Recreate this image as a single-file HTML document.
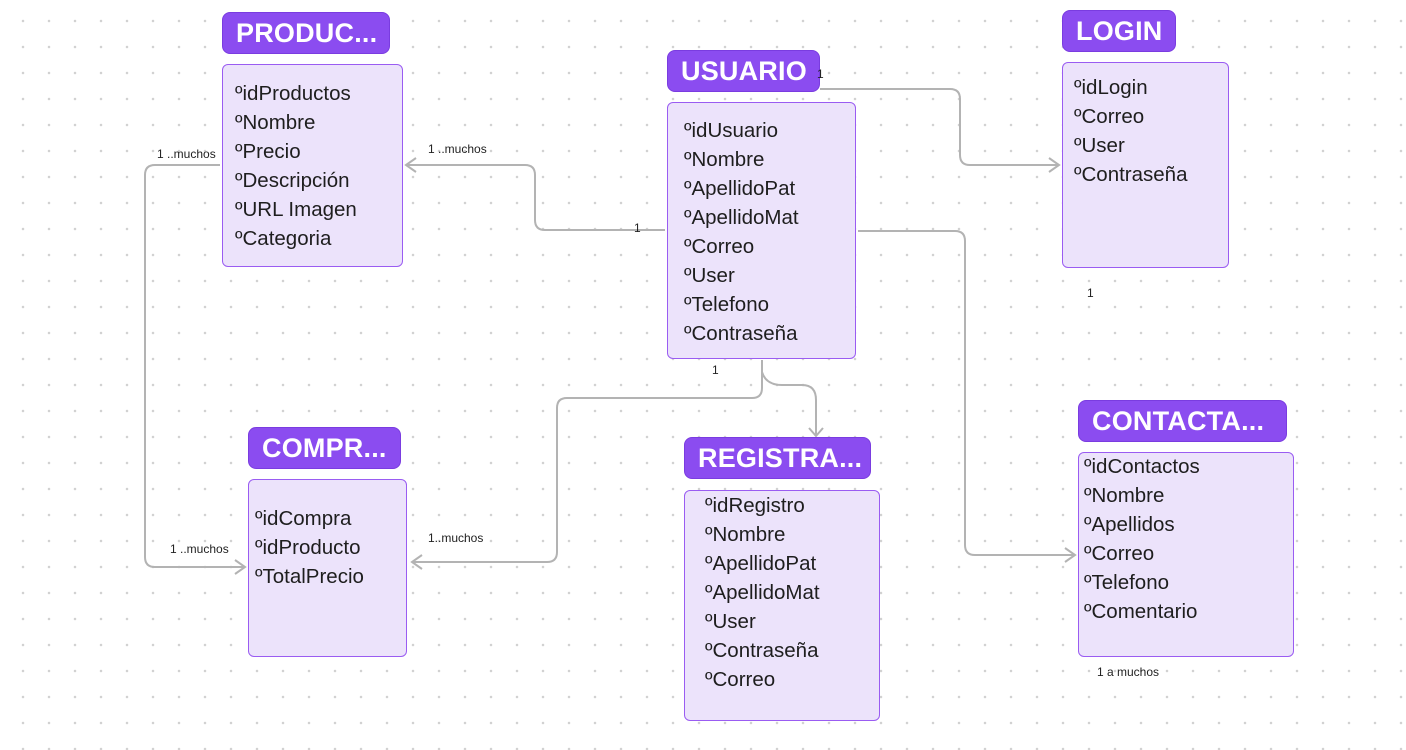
<!DOCTYPE html>
<html><head><meta charset="utf-8"><style>
html,body{margin:0;padding:0}
body{width:1406px;height:750px;position:relative;overflow:hidden;background:#fff;
background-image:radial-gradient(circle at 13px 13px,#d0d0d0 1px,transparent 1.5px);
background-size:26px 26px;background-position:10px 8px;font-family:"Liberation Sans",sans-serif}
.h{position:absolute;background:#8b4cf0;border:1.5px solid #7a3ce0;border-radius:8px;color:#fff;font-size:27px;font-weight:bold;box-sizing:border-box;padding-left:13px;line-height:40px;letter-spacing:0.2px}
.b{position:absolute;background:#ece3fb;border:1.5px solid #9a5cf2;border-radius:6px;box-sizing:border-box}
.f{position:absolute;font-size:20.5px;color:#1e1e1e;line-height:22px;white-space:nowrap}
.l{position:absolute;font-size:12px;color:#222;white-space:nowrap}
svg{position:absolute;left:0;top:0}
</style></head><body>
<svg width="1406" height="750" fill="none" stroke="#b3b3b3" stroke-width="2">
<path d="M665 230 H545 Q535 230 535 220 V175 Q535 165 525 165 H406"/>
<path d="M416 158 L406 165 L416 172"/>
<path d="M820 89 H950 Q960 89 960 99 V155 Q960 165 970 165 H1059"/>
<path d="M1049 158 L1059 165 L1049 172"/>
<path d="M858 231 H955 Q965 231 965 241 V545 Q965 555 975 555 H1075"/>
<path d="M1065 548 L1075 555 L1065 562"/>
<path d="M762 360 V388 Q762 398 752 398 H567 Q557 398 557 408 V552 Q557 562 547 562 H412"/>
<path d="M422 555 L412 562 L422 569"/>
<path d="M762 372 Q766 385 782 385 H802 Q816 385 816 400 V436"/>
<path d="M809 428 L816 436 L823 428"/>
<path d="M220 165 H155 Q145 165 145 175 V557 Q145 567 155 567 H245"/>
<path d="M235 560 L245 567 L235 574"/>
</svg>

<div class="b" style="left:222px;top:64px;width:181px;height:203px"></div>
<div class="h" style="left:222px;top:12px;width:168px;height:42px">PRODUC...</div>
<div class="f" style="left:235px;top:83px">ºidProductos</div>
<div class="f" style="left:235px;top:112px">ºNombre</div>
<div class="f" style="left:235px;top:141px">ºPrecio</div>
<div class="f" style="left:235px;top:170px">ºDescripción</div>
<div class="f" style="left:235px;top:199px">ºURL Imagen</div>
<div class="f" style="left:235px;top:228px">ºCategoria</div>

<div class="b" style="left:667px;top:102px;width:189px;height:257px"></div>
<div class="h" style="left:667px;top:50px;width:153px;height:42px">USUARIO</div>
<div class="f" style="left:684px;top:120px">ºidUsuario</div>
<div class="f" style="left:684px;top:149px">ºNombre</div>
<div class="f" style="left:684px;top:178px">ºApellidoPat</div>
<div class="f" style="left:684px;top:207px">ºApellidoMat</div>
<div class="f" style="left:684px;top:236px">ºCorreo</div>
<div class="f" style="left:684px;top:265px">ºUser</div>
<div class="f" style="left:684px;top:294px">ºTelefono</div>
<div class="f" style="left:684px;top:323px">ºContraseña</div>

<div class="b" style="left:1062px;top:62px;width:167px;height:206px"></div>
<div class="h" style="left:1062px;top:10px;width:114px;height:42px">LOGIN</div>
<div class="f" style="left:1074px;top:77px">ºidLogin</div>
<div class="f" style="left:1074px;top:106px">ºCorreo</div>
<div class="f" style="left:1074px;top:135px">ºUser</div>
<div class="f" style="left:1074px;top:164px">ºContraseña</div>

<div class="b" style="left:248px;top:479px;width:159px;height:178px"></div>
<div class="h" style="left:248px;top:427px;width:153px;height:42px">COMPR...</div>
<div class="f" style="left:255px;top:508px">ºidCompra</div>
<div class="f" style="left:255px;top:537px">ºidProducto</div>
<div class="f" style="left:255px;top:566px">ºTotalPrecio</div>

<div class="b" style="left:684px;top:490px;width:196px;height:231px"></div>
<div class="h" style="left:684px;top:437px;width:187px;height:42px">REGISTRA...</div>
<div class="f" style="left:705px;top:495px">ºidRegistro</div>
<div class="f" style="left:705px;top:524px">ºNombre</div>
<div class="f" style="left:705px;top:553px">ºApellidoPat</div>
<div class="f" style="left:705px;top:582px">ºApellidoMat</div>
<div class="f" style="left:705px;top:611px">ºUser</div>
<div class="f" style="left:705px;top:640px">ºContraseña</div>
<div class="f" style="left:705px;top:669px">ºCorreo</div>

<div class="b" style="left:1078px;top:452px;width:216px;height:205px"></div>
<div class="h" style="left:1078px;top:400px;width:209px;height:42px">CONTACTA...</div>
<div class="f" style="left:1084px;top:456px">ºidContactos</div>
<div class="f" style="left:1084px;top:485px">ºNombre</div>
<div class="f" style="left:1084px;top:514px">ºApellidos</div>
<div class="f" style="left:1084px;top:543px">ºCorreo</div>
<div class="f" style="left:1084px;top:572px">ºTelefono</div>
<div class="f" style="left:1084px;top:601px">ºComentario</div>

<div class="l" style="left:428px;top:142px">1 ..muchos</div>
<div class="l" style="left:634px;top:221px">1</div>
<div class="l" style="left:817px;top:67px">1</div>
<div class="l" style="left:1087px;top:286px">1</div>
<div class="l" style="left:1097px;top:665px">1 a muchos</div>
<div class="l" style="left:712px;top:363px">1</div>
<div class="l" style="left:428px;top:531px">1..muchos</div>
<div class="l" style="left:157px;top:147px">1 ..muchos</div>
<div class="l" style="left:170px;top:542px">1 ..muchos</div>
</body></html>
